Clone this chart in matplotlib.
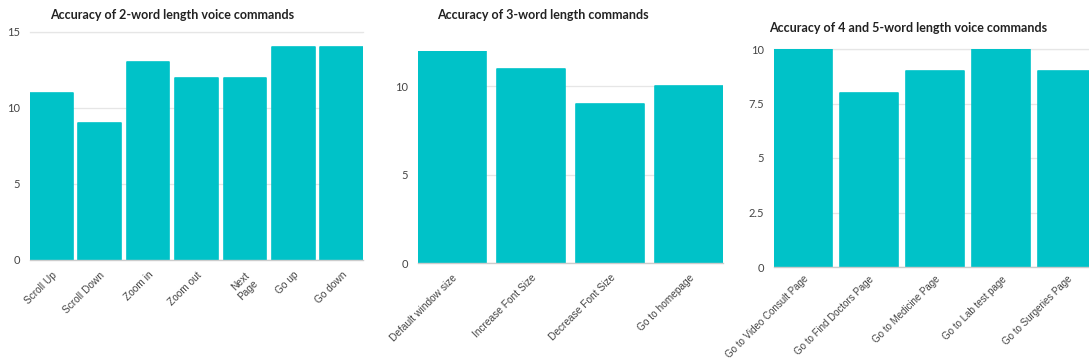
import matplotlib
matplotlib.use("Agg")
import matplotlib.pyplot as plt

cats1 = ["Scroll Up", "Scroll Down", "Zoom in", "Zoom out", "Next\nPage", "Go up", "Go down"]
vals1 = [11, 9, 13, 12, 12, 14, 14]
title1 = "Accuracy of 2-word length voice commands"

cats2 = ["Default window size", "Increase Font Size", "Decrease Font Size", "Go to homepage"]
vals2 = [12, 11, 9, 10]
title2 = "Accuracy of 3-word length commands"

cats3 = ["Go to Video Consult Page", "Go to Find Doctors Page", "Go to Medicine Page",
         "Go to Lab test page", "Go to Surgeries Page"]
vals3 = [10, 8, 9, 10, 9]
title3 = "Accuracy of 4 and 5-word length voice commands"

BAR = "#00c2c8"
W, H = 1089, 364
fig = plt.figure(figsize=(W / 100, H / 100), dpi=100)
fig.patch.set_facecolor("white")

def px(l, r, t, b):
    return [l / W, 1 - b / H, (r - l) / W, (b - t) / H]

ytickfont = dict(family=["Lato", "DejaVu Sans"], size=8, color="#444444")

def panel(rect, cats, vals, width, ylim, yticks, yticklabels, title, tx, ty, xsize=7.3, xpad=7):
    ax = fig.add_axes(rect)
    x = list(range(len(cats)))
    ax.bar(x, vals, width=width, color=BAR, edgecolor=BAR, linewidth=1.2,
           joinstyle="round", zorder=3)
    half = width / 2
    ax.set_xlim(-half, len(cats) - 1 + half)
    ax.set_ylim(*ylim)
    ax.set_yticks(yticks)
    ax.set_yticklabels(yticklabels, **ytickfont)
    ax.set_xticks(x)
    ax.set_xticklabels(cats, rotation=45, ha="right", rotation_mode="anchor",
                       multialignment="center",
                       family=["Liberation Sans", "DejaVu Sans"], size=xsize, color="#444444")
    for s in ["top", "right", "left"]:
        ax.spines[s].set_visible(False)
    ax.spines["bottom"].set_color("#cccccc")
    ax.spines["bottom"].set_linewidth(1.0)
    ax.spines["bottom"].set_zorder(4)
    ax.tick_params(axis="both", length=0)
    ax.tick_params(axis="y", pad=7)
    ax.tick_params(axis="x", pad=xpad)
    ax.grid(axis="y", color="#e6e6e6", linewidth=0.9, zorder=0)
    ax.set_axisbelow(True)
    for ytk in yticks:
        if ytk == ylim[1]:
            ax.axhline(ytk, color="#e6e6e6", linewidth=0.9, zorder=0, clip_on=False)
    fig.text(tx / W, 1 - ty / H, title, ha="center", va="center",
             family=["Lato", "DejaVu Sans"], fontweight="bold", size=9, color="#222222")
    return ax

panel(px(30, 363, 32, 260), cats1, vals1, 0.88, (0, 15), [0, 5, 10, 15],
      ["0", "5", "10", "15"], title1, 172, 15)
panel(px(418, 723, 51, 263), cats2, vals2, 0.86, (0, 12), [0, 5, 10],
      ["0", "5", "10"], title2, 543, 15)
panel(px(774, 1096, 49, 267), cats3, vals3, 0.88, (0, 10), [0, 2.5, 5, 7.5, 10],
      ["0", "2.5", "5", "7.5", "10"], title3, 908, 28, xsize=7.0, xpad=5)

fig.savefig("out.png", dpi=100, facecolor="white")
